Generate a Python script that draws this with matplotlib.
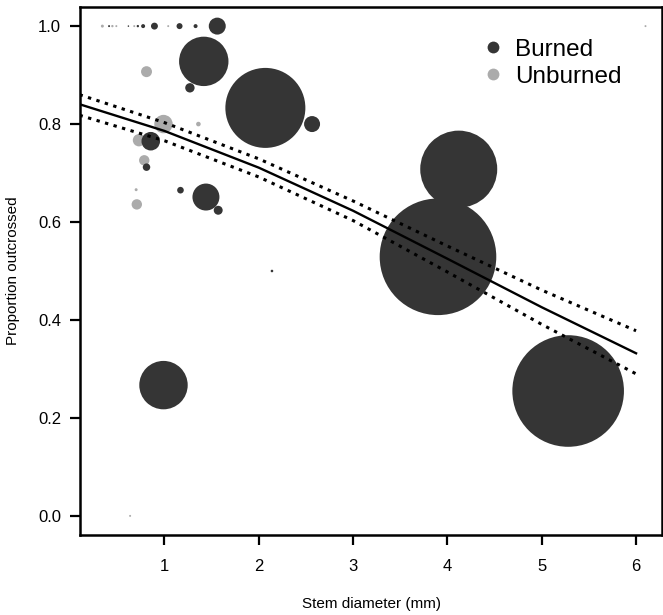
import matplotlib
matplotlib.use("Agg")
import matplotlib.pyplot as plt
from matplotlib.lines import Line2D

plt.rcParams['font.family'] = ['Liberation Sans', 'DejaVu Sans']

# burned plants: stem diameter, proportion outcrossed, bubble weight
burned_x = [5.28, 3.90, 4.12, 2.07, 1.417, 1.56, 1.27, 0.855, 0.81, 1.17, 1.44, 1.57, 2.14, 2.565, 0.99,
            0.413, 0.618, 0.718, 0.774, 0.894, 1.16, 1.33]
burned_y = [0.255, 0.529, 0.708, 0.833, 0.928, 1.0, 0.874, 0.765, 0.712, 0.665, 0.651, 0.624, 0.50, 0.80, 0.267,
            1.0, 1.0, 1.0, 1.0, 1.0, 1.0, 1.0]
burned_w = [3114, 3399, 1482, 1600, 610, 72, 22, 86, 14, 11, 182, 20, 1.7, 64, 586,
            1.0, 0.6, 1.4, 4, 12, 9, 4]

# unburned plants
unburned_x = [0.99, 0.73, 0.786, 0.707, 0.70, 1.36, 0.81, 0.636, 6.1,
              0.342, 0.448, 0.49, 0.68, 1.04]
unburned_y = [0.80, 0.767, 0.726, 0.636, 0.666, 0.80, 0.907, 0.0, 1.0,
              1.0, 1.0, 1.0, 1.0, 1.0]
unburned_w = [85, 38, 27, 27, 2.2, 5.3, 30, 1.0, 1.0,
              2.2, 1.4, 1.0, 1.0, 1.0]

# fitted curve and confidence band
fit_x = [0.1, 1, 2, 3, 4, 5, 6]
fit_y = [0.8405, 0.786, 0.711, 0.623, 0.525, 0.426, 0.332]
fit_hi = [0.860, 0.803, 0.729, 0.643, 0.551, 0.461, 0.378]
fit_lo = [0.818, 0.766, 0.692, 0.603, 0.498, 0.391, 0.290]

dark = '#353535'
light = '#ababab'
px2 = (2 * 0.72) ** 2  # radius in px -> scatter area in pt^2

fig = plt.figure(figsize=(6.63, 6.15), dpi=100)
ax = fig.add_axes([0.1214, 0.1301, 0.8771, 0.8585])

ax.scatter(unburned_x, unburned_y, s=[w * px2 for w in unburned_w], c=light, linewidths=0, zorder=2)
ax.scatter(burned_x, burned_y, s=[w * px2 for w in burned_w], c=dark, linewidths=0, zorder=3)

ax.plot(fit_x, fit_y, color='black', lw=1.7, zorder=4)
ax.plot(fit_x, fit_hi, color='black', lw=2.2, ls=(0, (1.1, 1.8)), zorder=4)
ax.plot(fit_x, fit_lo, color='black', lw=2.2, ls=(0, (1.1, 1.8)), zorder=4)

ax.set_xlim(0.11, 6.275)
ax.set_ylim(-0.039, 1.039)
ax.set_xticks([1, 2, 3, 4, 5, 6])
ax.set_yticks([0.0, 0.2, 0.4, 0.6, 0.8, 1.0])
ax.set_yticklabels(['0.0', '0.2', '0.4', '0.6', '0.8', '1.0'])
ax.tick_params(labelsize=12, width=1.6, length=7)
ax.tick_params(axis='x', pad=10)
ax.tick_params(axis='y', pad=7)
for sp in ax.spines.values():
    sp.set_linewidth(1.8)

ax.set_xlabel('Stem diameter (mm)', fontsize=11, labelpad=17)
ax.set_ylabel('Proportion outcrossed', fontsize=11, labelpad=13)

handles = [Line2D([], [], ls='none', marker='o', ms=8.5, color=dark, mec='none'),
           Line2D([], [], ls='none', marker='o', ms=8.5, color=light, mec='none')]
ax.legend(handles, ['Burned', 'Unburned'], loc='upper left', bbox_to_anchor=(0.693, 0.94),
          frameon=False, fontsize=17.5, handlelength=0.8, handletextpad=0.5,
          borderpad=0, borderaxespad=0, labelspacing=0.2)

fig.savefig('out.png', dpi=100)
